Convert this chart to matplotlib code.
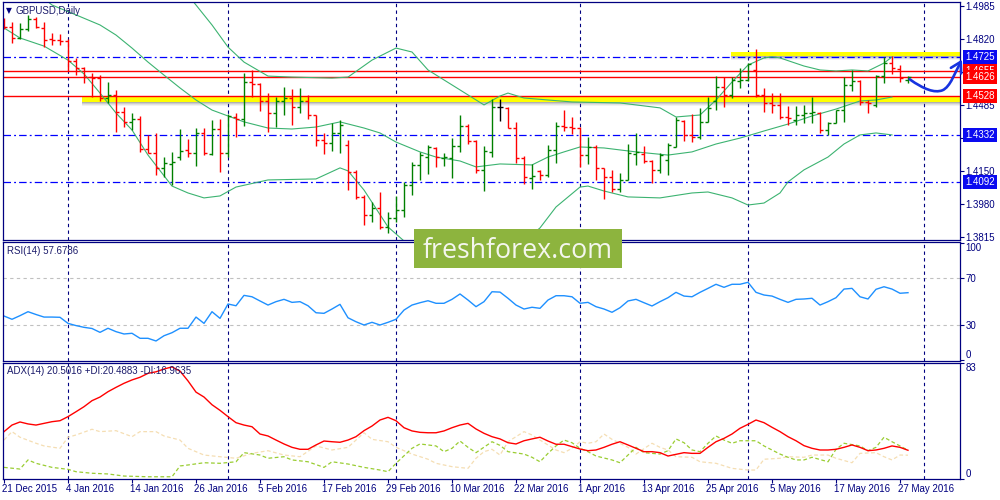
import matplotlib
matplotlib.use("Agg")
import matplotlib.pyplot as plt
import numpy as np
from matplotlib.path import Path
from matplotlib.patches import FancyArrowPatch, Rectangle

# ---- data (GBPUSD daily, bar index 0 = 21 Dec 2015) ----
date_labels = ["21 Dec 2015", "4 Jan 2016", "14 Jan 2016", "26 Jan 2016", "5 Feb 2016",
               "17 Feb 2016", "29 Feb 2016", "10 Mar 2016", "22 Mar 2016", "1 Apr 2016",
               "13 Apr 2016", "25 Apr 2016", "5 May 2016", "17 May 2016", "27 May 2016"]
label_bars = list(range(0, 113, 8))
month_bars = [8, 28, 49, 72, 93, 115]

bar_open = [
    1.4894, 1.4879, 1.4823, 1.4869, 1.4919, 1.4874, 1.4818, 1.4813, 1.4808, 1.4706,
    1.4671, 1.4625, 1.4620, 1.4519, 1.4534, 1.4448, 1.4398, 1.4413, 1.4261, 1.4241,
    1.4165, 1.4185, 1.4220, 1.4256, 1.4241, 1.4342, 1.4236, 1.4362, 1.4241, 1.4423,
    1.4413, 1.4600, 1.4590, 1.4504, 1.4443, 1.4504, 1.4519, 1.4474, 1.4504, 1.4433,
    1.4306, 1.4291, 1.4342, 1.4281, 1.4144, 1.4018, 1.3926, 1.3962, 1.3866, 1.3911,
    1.3952, 1.4079, 1.4180, 1.4220, 1.4266, 1.4215, 1.4215, 1.4276, 1.4377, 1.4301,
    1.4155, 1.4246, 1.4474, 1.4469, 1.4367, 1.4215, 1.4114, 1.4150, 1.4129, 1.4256,
    1.4377, 1.4372, 1.4367, 1.4230, 1.4271, 1.4165, 1.4119, 1.4058, 1.4104, 1.4236,
    1.4236, 1.4200, 1.4155, 1.4205, 1.4271, 1.4403, 1.4332, 1.4322, 1.4398, 1.4504,
    1.4575, 1.4534, 1.4605, 1.4610, 1.4661, 1.4534, 1.4494, 1.4484, 1.4423, 1.4408,
    1.4433, 1.4443, 1.4443, 1.4357, 1.4393, 1.4458, 1.4585, 1.4605, 1.4499, 1.4484,
    1.4631, 1.4696, 1.4666, 1.4612]
bar_high = [
    1.4924, 1.4904, 1.4899, 1.4939, 1.4929, 1.4904, 1.4848, 1.4843, 1.4818, 1.4722,
    1.4676, 1.4646, 1.4636, 1.4600, 1.4560, 1.4474, 1.4443, 1.4428, 1.4332, 1.4342,
    1.4220, 1.4246, 1.4362, 1.4311, 1.4367, 1.4367, 1.4408, 1.4413, 1.4438, 1.4443,
    1.4646, 1.4661, 1.4595, 1.4544, 1.4524, 1.4575, 1.4565, 1.4570, 1.4534, 1.4433,
    1.4342, 1.4393, 1.4408, 1.4306, 1.4155, 1.4028, 1.3992, 1.4043, 1.3942, 1.4023,
    1.4094, 1.4195, 1.4246, 1.4281, 1.4271, 1.4241, 1.4317, 1.4433, 1.4387, 1.4306,
    1.4276, 1.4514, 1.4514, 1.4474, 1.4398, 1.4225, 1.4185, 1.4155, 1.4281, 1.4398,
    1.4458, 1.4423, 1.4372, 1.4322, 1.4281, 1.4165, 1.4155, 1.4139, 1.4286, 1.4342,
    1.4276, 1.4205, 1.4241, 1.4291, 1.4423, 1.4408, 1.4438, 1.4469, 1.4524, 1.4631,
    1.4625, 1.4625, 1.4671, 1.4696, 1.4767, 1.4570, 1.4544, 1.4544, 1.4479, 1.4479,
    1.4484, 1.4524, 1.4448, 1.4398, 1.4458, 1.4625, 1.4661, 1.4610, 1.4509, 1.4636,
    1.4727, 1.4732, 1.4686, 1.4631]
bar_low = [
    1.4869, 1.4798, 1.4818, 1.4858, 1.4874, 1.4777, 1.4788, 1.4788, 1.4656, 1.4636,
    1.4595, 1.4524, 1.4504, 1.4494, 1.4347, 1.4372, 1.4357, 1.4246, 1.4241, 1.4129,
    1.4119, 1.4079, 1.4205, 1.4220, 1.4175, 1.4230, 1.4230, 1.4144, 1.4220, 1.4322,
    1.4377, 1.4524, 1.4453, 1.4347, 1.4372, 1.4433, 1.4382, 1.4443, 1.4413, 1.4276,
    1.4236, 1.4251, 1.4241, 1.4053, 1.4008, 1.3876, 1.3891, 1.3856, 1.3835, 1.3891,
    1.3916, 1.4028, 1.4104, 1.4134, 1.4170, 1.4175, 1.4114, 1.4246, 1.4286, 1.4139,
    1.4048, 1.4220, 1.4403, 1.4367, 1.4190, 1.4084, 1.4058, 1.4104, 1.4119, 1.4190,
    1.4352, 1.4337, 1.4170, 1.4185, 1.4104, 1.4008, 1.4043, 1.4043, 1.4104, 1.4180,
    1.4190, 1.4089, 1.4139, 1.4129, 1.4271, 1.4301, 1.4296, 1.4311, 1.4398, 1.4458,
    1.4474, 1.4519, 1.4570, 1.4605, 1.4524, 1.4448, 1.4443, 1.4413, 1.4382, 1.4382,
    1.4393, 1.4393, 1.4342, 1.4332, 1.4393, 1.4398, 1.4555, 1.4484, 1.4443, 1.4474,
    1.4595, 1.4641, 1.4600, 1.4595]
bar_close = [
    1.4879, 1.4823, 1.4869, 1.4919, 1.4879, 1.4813, 1.4813, 1.4808, 1.4706, 1.4671,
    1.4625, 1.4620, 1.4519, 1.4534, 1.4448, 1.4398, 1.4413, 1.4261, 1.4241, 1.4165,
    1.4190, 1.4195, 1.4251, 1.4241, 1.4342, 1.4241, 1.4362, 1.4241, 1.4428, 1.4413,
    1.4600, 1.4590, 1.4504, 1.4443, 1.4504, 1.4519, 1.4474, 1.4504, 1.4433, 1.4306,
    1.4291, 1.4342, 1.4382, 1.4144, 1.4018, 1.3926, 1.3962, 1.3866, 1.3911, 1.3952,
    1.4079, 1.4180, 1.4230, 1.4271, 1.4220, 1.4220, 1.4276, 1.4377, 1.4301, 1.4155,
    1.4251, 1.4474, 1.4474, 1.4367, 1.4215, 1.4119, 1.4124, 1.4129, 1.4256, 1.4377,
    1.4372, 1.4367, 1.4230, 1.4271, 1.4165, 1.4119, 1.4058, 1.4104, 1.4241, 1.4246,
    1.4200, 1.4155, 1.4230, 1.4281, 1.4408, 1.4332, 1.4322, 1.4398, 1.4469, 1.4575,
    1.4534, 1.4610, 1.4610, 1.4691, 1.4534, 1.4494, 1.4484, 1.4423, 1.4418, 1.4433,
    1.4443, 1.4448, 1.4357, 1.4393, 1.4458, 1.4585, 1.4605, 1.4499, 1.4494, 1.4631,
    1.4696, 1.4671, 1.4620, 1.4626]

# Bollinger bands (read at the listed bars)
bb_upper_bars = [16, 20, 24, 26, 28, 30, 33, 36, 41, 43, 46, 49, 51, 53, 57, 60, 62, 63, 65,
                 71, 77, 82, 84, 87, 89, 91, 93, 95, 96, 97, 100, 102, 104, 106, 108, 110, 111]
bb_upper = [1.5395, 1.5193, 1.4990, 1.4889, 1.4777, 1.4701, 1.4630, 1.4625, 1.4620, 1.4625,
            1.4711, 1.4772, 1.4752, 1.4661, 1.4560, 1.4484, 1.4529, 1.4544, 1.4519, 1.4499,
            1.4494, 1.4469, 1.4423, 1.4433, 1.4509, 1.4600, 1.4686, 1.4722, 1.4727, 1.4722,
            1.4681, 1.4661, 1.4656, 1.4661, 1.4656, 1.4696, 1.4727]
bb_mid_bars = [4, 6, 9, 12, 14, 16, 18, 20, 22, 24, 26, 28, 30, 33, 36, 39, 42, 45, 47, 49, 52,
               54, 57, 59, 62, 66, 68, 70, 72, 75, 79, 83, 86, 89, 92, 95, 98, 101, 104, 107,
               109, 111]
bb_mid = [1.5056, 1.4990, 1.4940, 1.4889, 1.4838, 1.4772, 1.4701, 1.4635, 1.4570, 1.4509,
          1.4458, 1.4428, 1.4398, 1.4367, 1.4362, 1.4372, 1.4398, 1.4367, 1.4342, 1.4296,
          1.4246, 1.4220, 1.4200, 1.4170, 1.4185, 1.4180, 1.4220, 1.4246, 1.4271, 1.4266,
          1.4246, 1.4230, 1.4246, 1.4286, 1.4316, 1.4352, 1.4387, 1.4428, 1.4463, 1.4504,
          1.4509, 1.4524]
bb_lower_bars = [0, 2, 5, 8, 10, 12, 14, 16, 18, 21, 23, 25, 27, 29, 33, 39, 42, 43, 45, 48,
                 50, 53, 57, 61, 64, 67, 69, 72, 73, 75, 78, 82, 86, 88, 91, 93, 95, 97, 98,
                 100, 103, 105, 107, 109, 110, 111]
bb_lower = [1.4874, 1.4823, 1.4782, 1.4711, 1.4641, 1.4544, 1.4443, 1.4357, 1.4230, 1.4073,
            1.4038, 1.4013, 1.4023, 1.4068, 1.4104, 1.4109, 1.4165, 1.4150, 1.4053, 1.3866,
            1.3795, 1.3709, 1.3658, 1.3688, 1.3759, 1.3861, 1.3967, 1.4068, 1.4073, 1.4048,
            1.4018, 1.4013, 1.4038, 1.4043, 1.4013, 1.3977, 1.3987, 1.4038, 1.4094, 1.4155,
            1.4220, 1.4286, 1.4332, 1.4342, 1.4337, 1.4332]

blue_levels = [1.4725, 1.4332, 1.4092]
red_levels = [1.4655, 1.4626, 1.4528]
price_ticks = [1.4985, 1.4820, 1.4650, 1.4485, 1.4315, 1.4150, 1.3980, 1.3815]
hidden_ticks = [1.4650]          # fully covered by the red level boxes
# highlighted zones: (low, high, first bar)
yellow_zones = [(1.4500, 1.4529, 9.75), (1.4733, 1.4754, 90.9)]

rsi = [37.7, 34.9, 38.0, 41.4, 39.0, 36.8, 36.8, 36.6, 31.4, 29.5,
       28.0, 27.0, 23.7, 27.2, 24.3, 22.3, 22.9, 18.6, 18.6, 16.3,
       20.8, 23.4, 27.2, 27.2, 36.8, 31.4, 41.4, 35.7, 48.0, 46.5,
       55.4, 54.2, 50.6, 47.1, 50.0, 52.0, 49.4, 50.0, 46.5, 40.5,
       40.0, 43.7, 47.7, 36.2, 32.8, 30.0, 32.3, 30.0, 32.3, 34.9,
       42.8, 47.1, 49.1, 50.8, 48.6, 48.6, 52.0, 56.6, 51.4, 45.7,
       50.0, 58.5, 58.2, 52.9, 47.1, 43.7, 45.2, 44.3, 51.4, 55.1,
       55.1, 54.2, 48.6, 49.4, 45.7, 43.7, 40.9, 44.8, 50.6, 52.0,
       49.1, 46.3, 50.0, 53.4, 58.0, 54.8, 54.2, 58.0, 61.4, 64.9,
       62.3, 64.9, 64.9, 66.6, 58.0, 55.7, 54.8, 52.0, 49.4, 52.0,
       52.3, 52.9, 47.1, 50.0, 53.4, 60.8, 61.4, 54.2, 52.3, 60.6,
       62.8, 60.8, 57.2, 57.7]

adx = [33.8, 38.5, 40.7, 39.3, 38.5, 39.7, 40.9, 41.6, 44.5, 48.0,
       51.6, 55.9, 58.5, 62.3, 65.4, 68.3, 70.7, 72.6, 75.4, 76.5,
       78.5, 80.0, 77.0, 70.0, 62.0, 58.5, 53.0, 49.0, 44.5, 40.2,
       38.5, 37.3, 32.1, 30.7, 27.8, 25.0, 22.6, 21.2, 21.2, 24.3,
       27.1, 26.6, 26.2, 27.8, 30.2, 34.5, 37.8, 42.1, 44.0, 41.6,
       36.6, 34.3, 33.3, 33.0, 33.0, 34.3, 36.6, 38.5, 39.7, 35.7,
       32.6, 30.2, 28.6, 25.9, 25.0, 27.3, 28.6, 29.8, 27.1, 24.8,
       24.8, 23.1, 21.4, 20.2, 20.7, 22.6, 24.8, 26.6, 24.3, 21.9,
       19.5, 19.5, 18.8, 16.4, 17.6, 18.8, 18.3, 18.3, 22.6, 26.6,
       29.0, 32.1, 36.2, 39.0, 42.1, 40.2, 36.9, 33.8, 30.2, 27.3,
       23.8, 21.9, 20.7, 20.7, 21.2, 22.6, 24.3, 22.6, 20.2, 20.7,
       21.9, 23.6, 22.6, 20.5]
pdi_bars = [0, 2, 3, 4, 6, 8, 9, 11, 13, 15, 18, 21, 22, 23, 25, 27, 29, 30, 32, 33, 35, 36,
            38, 40, 41, 43, 45, 47, 48, 49, 51, 52, 54, 55, 56, 57, 58, 59, 61, 62, 63, 65,
            66, 67, 68, 69, 70, 71, 72, 73, 74, 76, 77, 78, 79, 80, 82, 83, 84, 85, 86, 87,
            88, 89, 90, 91, 92, 94, 95, 96, 97, 98, 99, 100, 101, 103, 104, 105, 107, 108,
            109, 110, 111, 112, 113]
pdi = [8.3, 7.1, 13.6, 11.2, 8.3, 6.9, 5.2, 4.1, 3.6, 2.1, 1.6, 1.6, 9.3, 10.0, 11.6, 11.2,
       12.3, 18.8, 17.1, 14.8, 15.9, 13.6, 12.3, 8.3, 12.3, 10.7, 8.3, 6.4, 5.2, 11.2, 21.9,
       25.0, 23.6, 19.5, 21.9, 27.1, 22.6, 18.8, 26.6, 24.0, 19.5, 17.8, 15.5, 12.3, 18.3,
       23.6, 27.8, 25.9, 21.9, 19.5, 16.4, 13.6, 11.6, 17.1, 22.6, 18.8, 17.8, 20.2, 28.6,
       25.9, 20.7, 19.5, 25.5, 30.7, 27.8, 25.5, 27.3, 27.3, 23.6, 20.7, 17.8, 15.5, 13.6,
       13.6, 15.5, 12.3, 21.2, 25.5, 23.6, 20.2, 22.6, 29.8, 26.6, 23.6, 20.5]
mdi_bars = [0, 1, 2, 4, 5, 7, 8, 9, 11, 12, 14, 16, 17, 19, 20, 22, 23, 25, 27, 29, 31, 33,
            35, 37, 39, 41, 43, 45, 46, 48, 49, 51, 53, 54, 56, 58, 59, 60, 61, 62, 63, 65,
            66, 67, 69, 70, 71, 72, 73, 74, 75, 76, 78, 79, 81, 82, 83, 84, 86, 87, 89, 91,
            93, 94, 95, 97, 98, 100, 101, 103, 104, 106, 107, 109, 110, 111, 112, 113]
mdi = [27.8, 33.8, 29.8, 25.5, 23.6, 21.9, 29.8, 31.4, 35.5, 33.8, 34.5, 30.2, 33.8, 33.8,
       30.7, 27.8, 21.9, 17.1, 15.9, 14.8, 18.3, 20.2, 17.1, 15.9, 23.6, 20.7, 22.6, 33.0,
       28.3, 26.6, 22.6, 17.8, 14.1, 11.2, 8.8, 7.6, 14.8, 19.5, 21.2, 17.1, 26.6, 33.8,
       31.4, 27.8, 20.7, 18.8, 21.9, 26.6, 25.5, 26.6, 32.1, 28.3, 22.6, 17.8, 25.5, 22.6,
       20.7, 15.9, 15.5, 12.3, 11.2, 7.6, 6.4, 6.4, 14.1, 14.8, 15.9, 15.5, 17.1, 17.1, 14.8,
       11.6, 18.3, 18.8, 15.9, 13.6, 17.1, 17.0]

# ---- styling ----
NAVY = "#000080"
TXT = "#1c1c6c"
GREEN = "#008000"
RED = "#FF0000"
BLUE = "#0000FF"
FONT = "Liberation Sans"
plt.rcParams["font.family"] = [FONT, "DejaVu Sans"]

W, H = 1000, 500


def fx(px):
    return px / W


def fy(py):
    return 1 - py / H


fig = plt.figure(figsize=(10, 5), dpi=100)
fig.patch.set_facecolor("white")
ax_main = fig.add_axes([fx(3), fy(240), fx(957), fy(2) - fy(240)])
ax_rsi = fig.add_axes([fx(3), fy(360.7), fx(957), fy(241.7) - fy(360.7)])
ax_adx = fig.add_axes([fx(3), fy(479), fx(957), fy(362.7) - fy(479)])

for ax in (ax_main, ax_rsi, ax_adx):
    ax.set_xlim(-0.125, 119.5)
    for sp in ax.spines.values():
        sp.set_color(NAVY)
        sp.set_linewidth(0.9)
    ax.yaxis.tick_right()
    ax.tick_params(axis="y", direction="out", length=3, width=0.8, colors=NAVY,
                   labelsize=7, labelcolor=NAVY, pad=1)
    ax.tick_params(axis="x", bottom=False, labelbottom=False)
    for b in month_bars:
        ax.axvline(b, color=NAVY, lw=0.8, ls=(0, (3, 3)), zorder=0.6)

# ---- main price panel ----
ax_main.set_ylim(1.37998, 1.50053)
ax_main.set_yticks(price_ticks)
ax_main.set_yticklabels(["" if p in hidden_ticks else f"{p:.4f}" for p in price_ticks])

for lo, hi, start in yellow_zones:
    xmin = (start + 0.125) / 119.625
    ax_main.axhspan(lo, hi, xmin=xmin, xmax=1, color="#FFFF00", zorder=0.8, lw=0)
    step = 0.00051
    for k, a in enumerate([0.55, 0.35, 0.2, 0.09]):
        ax_main.axhspan(lo - step * (k + 1), lo - step * k, xmin=xmin, xmax=1,
                        color="#707070", alpha=a, zorder=0.7, lw=0)

for lvl in blue_levels:
    ax_main.axhline(lvl, color=BLUE, lw=0.9, ls=(0, (6, 2.5, 1.5, 2.5)), zorder=1.2)
for lvl in red_levels:
    ax_main.axhline(lvl, color=RED, lw=1.0, zorder=1.2)

bb_col = "#3CB371"
ax_main.plot(bb_upper_bars, bb_upper, color=bb_col, lw=0.8, zorder=1.5)
ax_main.plot(bb_mid_bars, bb_mid, color=bb_col, lw=0.8, zorder=1.5)
ax_main.plot(bb_lower_bars, bb_lower, color=bb_col, lw=0.8, zorder=1.5)

o = np.array(bar_open)
h = np.array(bar_high)
l = np.array(bar_low)
c = np.array(bar_close)
x = np.arange(len(o))
cols = np.where(c > o, GREEN, np.where(c < o, RED, "black"))
ax_main.vlines(x, l, h, colors=cols, lw=1.0, zorder=2)
ax_main.hlines(o, x - 0.42, x, colors=cols, lw=1.0, zorder=2)
ax_main.hlines(c, x, x + 0.42, colors=cols, lw=1.0, zorder=2)

# price label boxes on the right scale
ytr = ax_main.get_yaxis_transform()
for lvl, bg in [(1.4725, "#0A0AF0"), (1.4332, "#0A0AF0"), (1.4092, "#0A0AF0"),
                (1.4655, RED), (1.4626, RED), (1.4528, RED)]:
    ax_main.text(1.0055, lvl, f"{lvl:.4f}", transform=ytr, fontsize=7, color="white",
                 va="center", ha="left", clip_on=False, zorder=5,
                 bbox=dict(boxstyle="square,pad=0.22", fc=bg, ec="none"))

# hand-drawn forecast arrow
verts = [(113.2, 1.4614), (115.0, 1.4563), (116.3, 1.4543), (117.3, 1.4558),
         (118.3, 1.4575), (118.9, 1.4650), (119.75, 1.4714)]
codes = [Path.MOVETO] + [Path.CURVE4] * 6
arrow = FancyArrowPatch(path=Path(verts, codes), arrowstyle="->,head_length=0.6,head_width=0.35",
                        mutation_scale=12, lw=1.9, color="#1733E0", shrinkA=0, shrinkB=0,
                        transform=ax_main.transData, clip_on=False, zorder=6)
ax_main.add_patch(arrow)

# ---- RSI panel ----
ax_rsi.set_ylim(-0.6, 101.4)
ax_rsi.set_yticks([0, 30, 70, 100])
ax_rsi.set_yticklabels(["", "30", "70", ""])
for lvl in (30, 70):
    ax_rsi.axhline(lvl, color="#C0C0C0", lw=0.8, ls=(0, (3, 3)), zorder=0.5)
ax_rsi.plot(x, rsi, color="#1E90FF", lw=1.0, zorder=2)
rtr = ax_rsi.get_yaxis_transform()
ax_rsi.text(1.0055, 100, "100", transform=rtr, fontsize=7, color=NAVY, va="top", ha="left",
            clip_on=False)
ax_rsi.text(1.0055, 0, "0", transform=rtr, fontsize=7, color=NAVY, va="bottom", ha="left",
            clip_on=False)

# ---- ADX panel ----
ax_adx.set_ylim(0, 83)
ax_adx.set_yticks([0, 83])
ax_adx.set_yticklabels(["", ""])
ax_adx.plot(mdi_bars, mdi, color="#F5DEB3", lw=0.9, ls=(0, (3, 2)), zorder=1.5)
ax_adx.plot(pdi_bars, pdi, color="#9ACD32", lw=0.9, ls=(0, (3, 2)), zorder=1.6)
ax_adx.plot(x, adx, color=RED, lw=1.0, zorder=2)
atr = ax_adx.get_yaxis_transform()
ax_adx.text(1.0055, 83, "83", transform=atr, fontsize=7, color=NAVY, va="top", ha="left",
            clip_on=False)
ax_adx.text(1.0055, 0, "0", transform=atr, fontsize=7, color=NAVY, va="bottom", ha="left",
            clip_on=False)

ax_adx.set_xticks(label_bars)
ax_adx.tick_params(axis="x", bottom=True, direction="out", length=3, width=0.8, colors=NAVY,
                   labelbottom=False)
xtr = ax_adx.get_xaxis_transform()
for b, lab in zip(label_bars, date_labels):
    ax_adx.text(b - 0.25, -0.045, lab, transform=xtr, fontsize=7, color=NAVY,
                va="top", ha="left", clip_on=False)

# ---- panel captions ----
fig.text(fx(6), fy(10.5), "\u25bc", fontsize=5.5, color=NAVY, va="center", ha="left",
         family="DejaVu Sans")
fig.text(fx(16), fy(10.5), "GBPUSD,Daily", fontsize=7, color=TXT, va="center", ha="left")
fig.text(fx(7), fy(251), "RSI(14) 57.6786", fontsize=7, color=TXT, va="center", ha="left")
fig.text(fx(7), fy(371), "ADX(14) 20.5016 +DI:20.4883 -DI:16.9635", fontsize=7, color=TXT,
         va="center", ha="left")

# ---- watermark ----
fig.add_artist(Rectangle((fx(414), fy(267.7)), fx(208), (267.7 - 229) / H,
                         transform=fig.transFigure, fc="#8DB43E", ec="none", zorder=10))
fig.text(fx(423), fy(257.7), "freshforex.com", fontsize=19.3, family="Open Sans",
         color="#F4F6EE", va="baseline", ha="left", zorder=11)

fig.savefig("out.png", dpi=100, facecolor="white")
